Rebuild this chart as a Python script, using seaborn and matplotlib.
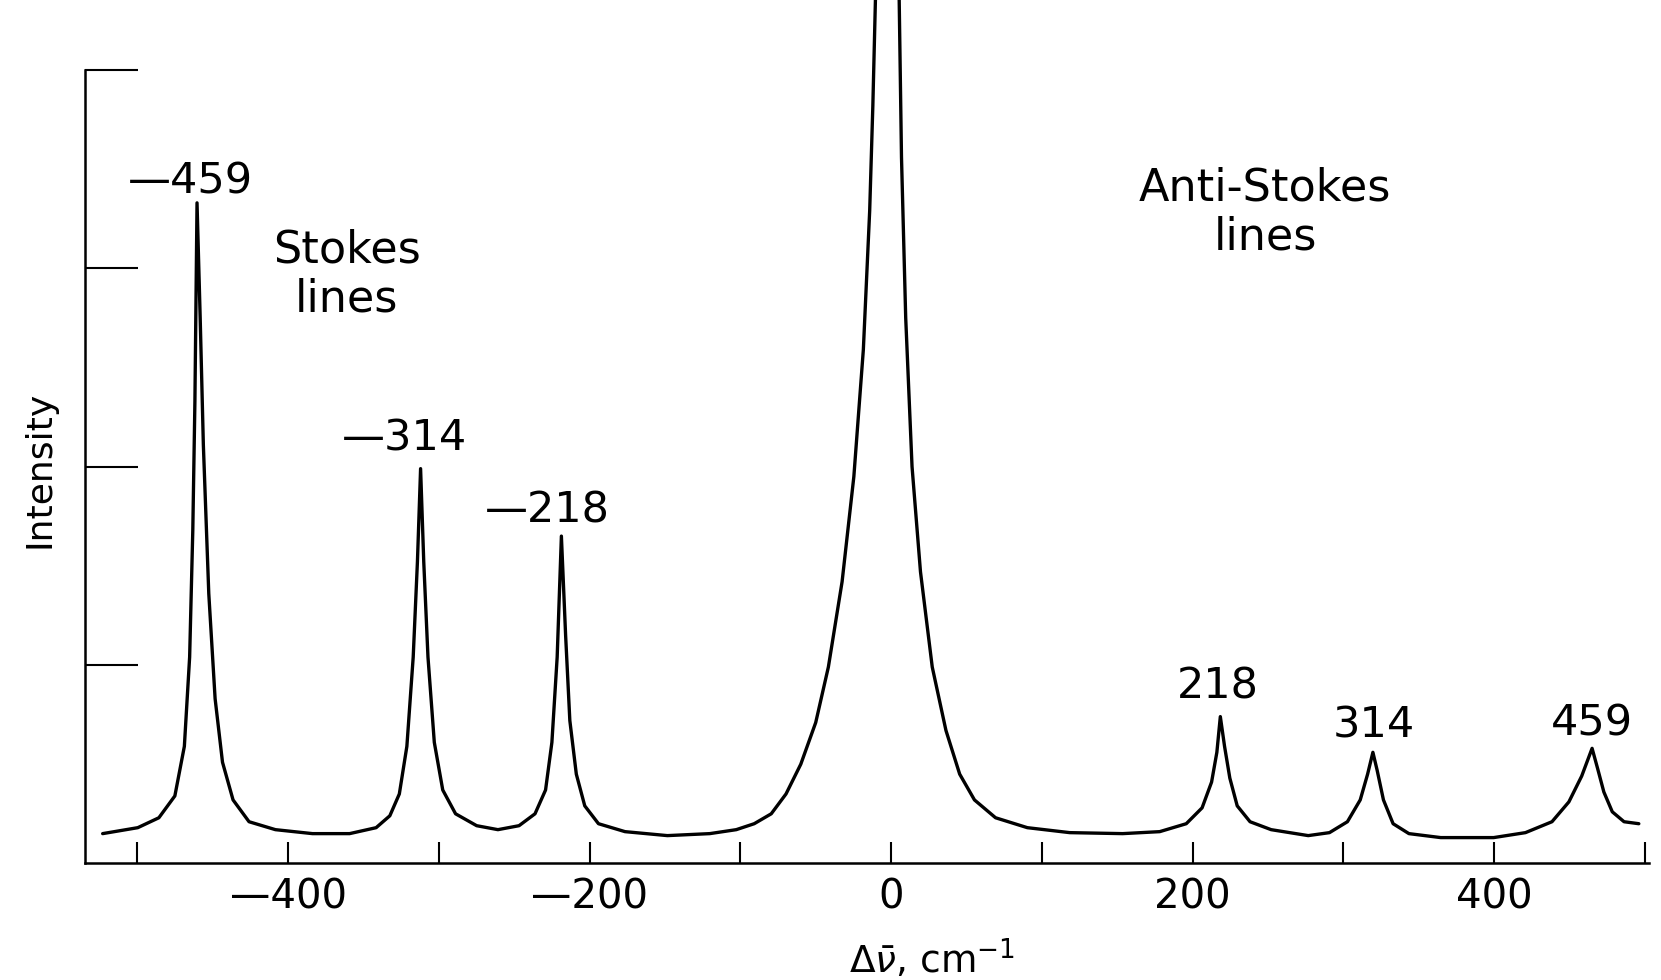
import matplotlib
matplotlib.use("Agg")
import numpy as np
import pandas as pd
import matplotlib.pyplot as plt
import seaborn as sns

# Raman shift (cm^-1) and intensity
shift = [-523.0, -499.7, -485.7, -475.1, -468.8, -465.3, -463.2, -461.8, -460.4, -458.3,
         -456.2, -452.6, -448.4, -443.5, -436.5, -425.9, -408.4, -383.8, -359.2, -341.6,
         -332.5, -326.2, -321.2, -317.0, -314.2, -312.1, -310.0, -307.2, -303.0, -297.4,
         -288.9, -274.9, -260.8, -246.8, -236.2, -229.2, -225.0, -221.5, -218.7, -215.9,
         -213.1, -208.8, -203.2, -194.1, -176.5, -148.4, -120.3, -102.7, -90.8, -79.5,
         -69.7, -59.9, -50.0, -41.6, -32.5, -24.7, -18.4, -14.2, -12.1, -9.6,
         4.9, 6.9, 9.7, 13.9, 19.5, 27.3, 36.4, 45.5, 55.3, 69.3,
         90.4, 118.5, 153.6, 178.2, 195.8, 206.3, 212.6, 216.1, 218.4, 221.2,
         224.7, 229.6, 238.1, 252.1, 276.7, 290.8, 302.7, 311.2, 316.1, 319.6,
         322.4, 326.6, 333.0, 343.5, 364.6, 399.7, 420.8, 438.4, 449.6, 458.1,
         465.0, 468.6, 472.8, 478.4, 486.2, 496.0]
intensity = [0.15, 0.18, 0.23, 0.34, 0.59, 1.04, 1.68, 2.33, 3.33, 2.75,
             2.11, 1.36, 0.83, 0.51, 0.32, 0.21, 0.17, 0.15, 0.15, 0.18,
             0.24, 0.35, 0.59, 1.04, 1.52, 1.99, 1.52, 1.04, 0.61, 0.37,
             0.25, 0.19, 0.17, 0.19, 0.25, 0.37, 0.61, 1.04, 1.65, 1.15,
             0.72, 0.45, 0.29, 0.20, 0.16, 0.14, 0.15, 0.17, 0.20, 0.25,
             0.35, 0.50, 0.71, 0.99, 1.42, 1.95, 2.59, 3.29, 3.82, 4.60,
             4.60, 3.56, 2.75, 2.00, 1.47, 0.99, 0.67, 0.45, 0.32, 0.23,
             0.18, 0.155, 0.15, 0.16, 0.20, 0.28, 0.41, 0.56, 0.74, 0.59,
             0.43, 0.29, 0.21, 0.17, 0.14, 0.155, 0.21, 0.32, 0.45, 0.56,
             0.47, 0.32, 0.20, 0.15, 0.13, 0.13, 0.155, 0.21, 0.31, 0.44,
             0.58, 0.48, 0.36, 0.26, 0.21, 0.20]

# tick labels
major_ticks = [-400, -200, 0, 200, 400]
major_labels = ["\u2014400", "\u2014200", "0", "200", "400"]
minor_ticks = [-500, -300, -100, 100, 300, 500]

# peak annotations (text, x, y)
peak_text = ["\u2014459", "\u2014314", "\u2014218", "218", "314", "459"]
peak_x = [-465, -323, -228, 217, 320, 465]
peak_y = [3.44, 2.14, 1.78, 0.89, 0.695, 0.705]

sns.set_theme(style="white")
plt.rcParams["font.family"] = ["DejaVu Sans"]
plt.rcParams["text.color"] = "black"
plt.rcParams["xtick.labelcolor"] = "black"

df = pd.DataFrame({"shift": shift, "intensity": intensity})

fig = plt.figure(figsize=(16.61, 9.80), dpi=100)
ax = fig.add_axes([0.051, 0.119, 0.942, 0.8096])

sns.lineplot(data=df, x="shift", y="intensity", color="black", linewidth=2.4,
             sort=False, ax=ax)
for ln in ax.lines:
    ln.set_clip_on(False)

ax.set_xlim(-534.9, 503.0)
ax.set_ylim(0, 4)

ax.spines[["top", "right"]].set_visible(False)
for side in ["left", "bottom"]:
    ax.spines[side].set_color("black")
    ax.spines[side].set_linewidth(1.8)

ax.set_xticks(major_ticks)
ax.set_xticklabels(major_labels, fontsize=29, color="black")
ax.set_xticks(minor_ticks, minor=True)
ax.tick_params(axis="x", which="both", direction="in", length=15, width=1.5,
               color="black", labelcolor="black", pad=10, bottom=True)
ax.set_yticks([1, 2, 3, 4])
ax.set_yticklabels([])
ax.tick_params(axis="y", direction="in", length=38, width=1.5, color="black", left=True)
ax.set_xlabel("")
ax.set_ylabel("")

for t, px, py in zip(peak_text, peak_x, peak_y):
    ax.text(px, py, t, fontsize=31, ha="center", va="center", color="black")

ax.text(-361, 2.97, "Stokes\nlines", fontsize=32, ha="center", va="center",
        linespacing=1.18, color="black")
ax.text(248, 3.28, "Anti-Stokes\nlines", fontsize=32, ha="center", va="center",
        linespacing=1.18, color="black")

fig.text(0.0236, 0.521, "Intensity", rotation=90, fontsize=26, ha="center", va="center",
         color="black")
fig.text(0.561, 0.0216, r"$\Delta\bar{\nu}$, cm$^{-1}$", fontsize=27, ha="center", va="center",
         color="black")

fig.savefig("out.png", dpi=100, facecolor="white")
